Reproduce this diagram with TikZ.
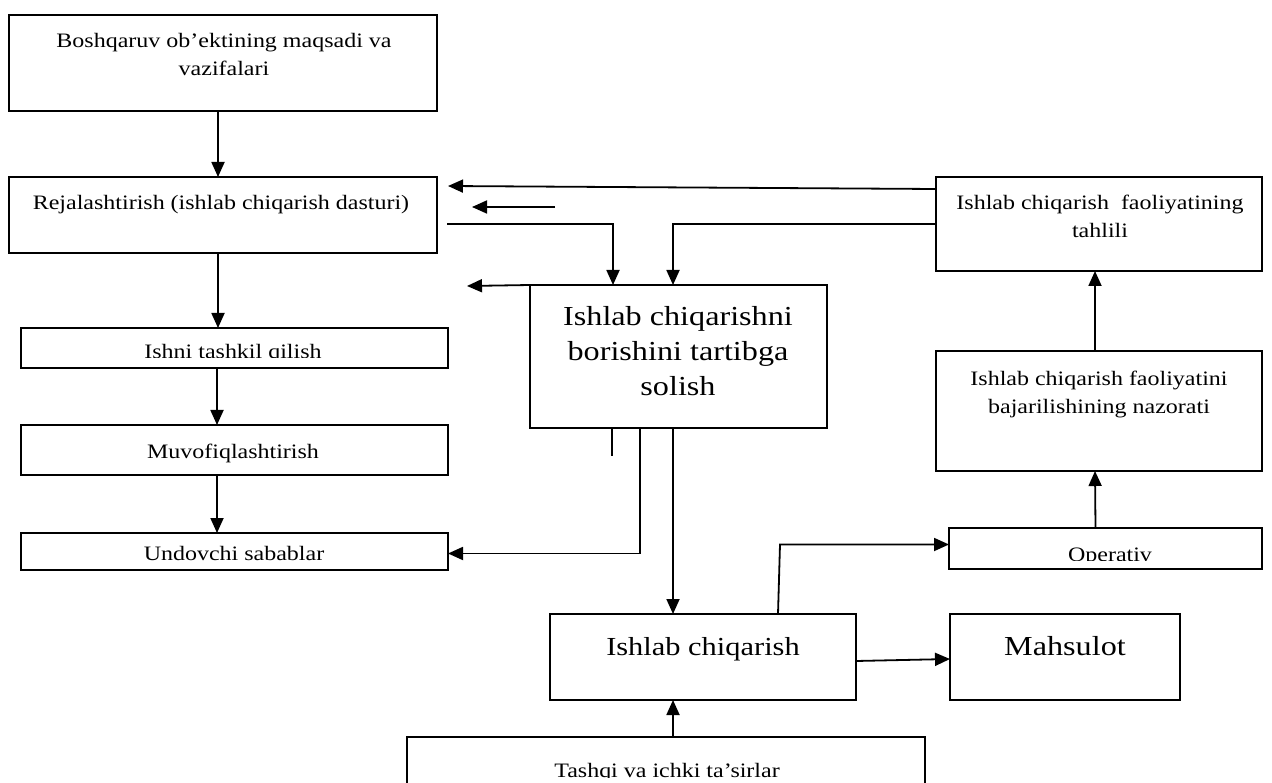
\documentclass[tikz,border=0pt]{standalone}
\usepackage{fontspec}
\setmainfont[FakeStretch=1.17]{Liberation Serif}
\usetikzlibrary{arrows.meta}

\begin{document}
\begin{tikzpicture}[x=1pt,y=-1pt,
  box/.style={draw, line width=1.8pt, inner sep=0pt, outer sep=0pt},
  conn/.style={line width=1.8pt},
  arr/.style={conn, -{Triangle[length=15pt,width=13pt]}},
  small/.style={font=\fontsize{20.5}{24}\selectfont, inner sep=0pt, anchor=base},
  big/.style={font=\fontsize{27.5}{33}\selectfont, inner sep=0pt, anchor=base},
]
\useasboundingbox (0,0) rectangle (1272,783);
\clip (0,0) rectangle (1272,783);

% boxes
\node[box, minimum width=428pt, minimum height=96pt]  (b1) at (223,63) {};
\node[box, minimum width=428pt, minimum height=76pt]  (b2) at (223,215) {};
\node[box, minimum width=427pt, minimum height=40pt]  (b3) at (234.5,348) {};
\node[box, minimum width=427pt, minimum height=50pt]  (b4) at (234.5,450) {};
\node[box, minimum width=427pt, minimum height=37pt]  (b5) at (234.5,551.5) {};
\node[box, minimum width=297pt, minimum height=143pt] (mid) at (678.5,356.5) {};
\node[box, minimum width=326pt, minimum height=94pt]  (tah) at (1099,224) {};
\node[box, minimum width=326pt, minimum height=120pt] (naz) at (1099,411) {};
\node[box, minimum width=313pt, minimum height=41pt]  (ope) at (1105.5,548.5) {};
\node[box, minimum width=306pt, minimum height=86pt]  (ich) at (703,657) {};
\node[box, minimum width=230pt, minimum height=86pt]  (mah) at (1065,657) {};
\node[box, minimum width=518pt, minimum height=56pt]  (tas) at (666,765) {};

% labels
\node[small] (t1a) at (224,48) {Boshqaruv ob’ektining maqsadi va};
\node[small] (t1b) at (224,76) {vazifalari};
\node[small] (t2)  at (221,210) {Rejalashtirish (ishlab chiqarish dasturi)};
\begin{scope}
  \clip (b3.north west) rectangle (448,358);
  \node[small] (t3) at (233,359) {Ishni tashkil qilish};
\end{scope}
\node[small] (t4) at (233,458) {Muvofiqlashtirish};
\node[small] (t5) at (234,560) {Undovchi sabablar};
\node[big] (tm1) at (678,326) {Ishlab chiqarishni};
\node[big] (tm2) at (678,361) {borishini tartibga};
\node[big] (tm3) at (678,396) {solish};
\node[small] (tt1) at (1100,210) {Ishlab chiqarish\ \ faoliyatining};
\node[small] (tt2) at (1100,238) {tahlili};
\node[small] (tn1) at (1099,386) {Ishlab chiqarish faoliyatini};
\node[small] (tn2) at (1099,414) {bajarilishining nazorati};
\begin{scope}
  \clip (ope.north west) rectangle (1262,560);
  \node[small] (to) at (1110,561) {Operativ};
\end{scope}
\node[big, font=\fontsize{26}{31}\selectfont] (ti) at (703,655) {Ishlab chiqarish};
\node[big] (tmh) at (1065,655) {Mahsulot};
\begin{scope}
  \clip (tas.north west) rectangle (925,777);
  \node[small] (tts) at (667,777) {Tashqi va ichki ta’sirlar};
\end{scope}

% free ends of the connectors
\coordinate (e1) at (448,186);
\coordinate (f0) at (555,207);
\coordinate (f1) at (472,207);
\coordinate (g0) at (447,224);
\coordinate (i1) at (467,286);
\coordinate (m1) at (780,544.5);
\coordinate (cl) at (218,0);
\coordinate (cm) at (217,0);

% left column
\draw[arr] (b1.south -| cl) -- (b2.north -| cl);
\draw[arr] (b2.south -| cl) -- (b3.north -| cl);
\draw[arr] (b3.south -| cm) -- (b4.north -| cm);
\draw[arr] (b4.south -| cm) -- (b5.north -| cm);

% feedback and control lines
\draw[arr] ([yshift=35pt]tah.west) -- (e1);
\draw[arr] (f0) -- (f1);
\draw[arr] (g0) -| ([xshift=-65.5pt]mid.north);
\draw[arr] (tah.west) -| ([xshift=-5.5pt]mid.north);
\draw[arr] (mid.north west) -- (i1);
\draw[conn] ([xshift=-66.5pt]mid.south) -- ++(0,28);
\draw[arr] ([xshift=-38.5pt]mid.south) |- ([yshift=-2pt]b5.east);
\draw[arr] ([xshift=-5.5pt]mid.south) -- ([xshift=-30pt]ich.north);

% right column
\draw[arr] ([xshift=75pt]ich.north) -- (m1) -- (m1 -| ope.west);
\draw[arr] ([xshift=-10pt]ope.north) -- ([xshift=-4pt]naz.south);
\draw[arr] ([xshift=-4pt]naz.north) -- ([xshift=-4pt]tah.south);
\draw[arr] ([yshift=-4pt]ich.east) -- ([yshift=-2pt]mah.west);
\draw[arr] ([xshift=7pt]tas.north) -- ([xshift=-30pt]ich.south);
\end{tikzpicture}
\end{document}
